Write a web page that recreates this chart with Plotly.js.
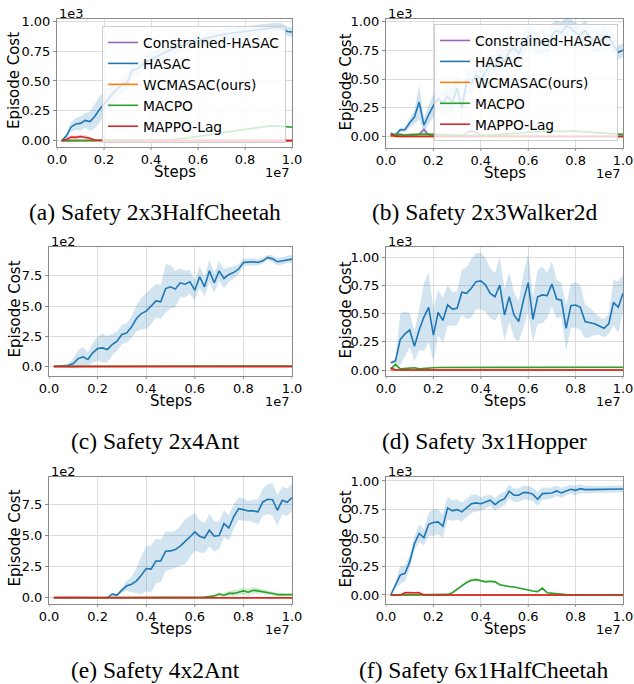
<!DOCTYPE html>
<html><head><meta charset="utf-8">
<script src="https://cdn.plot.ly/plotly-3.0.1.min.js"></script>
<style>html,body{margin:0;padding:0;background:#fff;}#chart{width:634px;height:684px;}</style>
</head><body><div id="chart"></div>
<script>
// Steps in millions (axis shows 1e7 offset)
const STEPS = [0.2,0.4,0.6,0.8,1.0,1.2,1.4,1.6,1.8,2.0,2.2,2.4,2.6,2.8,3.0,3.2,3.4,3.6,3.8,4.0,4.2,4.4,4.6,4.8,5.0,5.2,5.4,5.6,5.8,6.0,6.2,6.4,6.6,6.8,7.0,7.2,7.4,7.6,7.8,8.0,8.2,8.4,8.6,8.8,9.0,9.2,9.4,9.6,9.8,10.0];
const SERIES_NAMES = ["Constrained-HASAC","HASAC","WCMASAC(ours)","MACPO","MAPPO-Lag"];
const CAPTIONS = ["(a) Safety 2x3HalfCheetah","(b) Safety 2x3Walker2d","(c) Safety 2x4Ant","(d) Safety 3x1Hopper","(e) Safety 4x2Ant","(f) Safety 6x1HalfCheetah"];
const X_TICKVALS = [0,2,4,6,8,10];
const X_TICKTEXT = ["0.0","0.2","0.4","0.6","0.8","1.0"];
const Y_TICKVALS_1E3 = [0,250,500,750,1000];
const Y_TICKTEXT_1E3 = ["0.00","0.25","0.50","0.75","1.00"];
const Y_TICKVALS_1E2 = [0,250,500,750];
const Y_TICKTEXT_1E2 = ["0.0","2.5","5.0","7.5"];

// ---- (a) 2x3HalfCheetah ----
const A_CHASAC = [0,2,3,2,2,1,1,1,1,1, 1,1,1,0,0,0,0,0,0,0, 0,0,0,0,0,0,0,0,0,0, 0,0,0,0,0,0,0,0,0,0, 0,0,0,0,0,0,0,0,0,0];
const A_HASAC = [0,40,115,140,145,170,160,200,260,310, 350,400,440,470,490,590,600,630,660,680, 700,725,740,760,775,790,800,815,830,840, 850,860,870,880,885,895,900,905,910,915, 920,925,930,935,940,945,950,940,915,910];
const A_HASAC_STD = [0,20,40,50,60,60,80,100,110,100, 90,80,70,70,60,60,60,60,60,60, 60,60,55,55,55,50,50,50,50,50, 50,50,50,50,50,45,45,45,45,45, 45,45,40,40,40,40,40,40,40,40];
const A_WCMASAC = [0,1,1,1,1,1,1,1,0,0, 0,0,0,0,0,0,0,0,0,0, 0,0,0,0,0,0,0,0,0,0, 0,0,0,0,0,0,0,0,0,0, 0,0,0,0,0,0,0,0,0,0];
const A_MACPO = [0,1,1,1,1,1,1,1,1,0, 0,0,0,0,0,0,0,0,0,0, 1,3,5,8,11,15,20,25,30,35, 40,46,52,60,67,73,78,85,90,95, 102,108,114,118,122,124,123,120,116,112];
const A_MACPO_STD = [0,0,0,0,0,0,0,0,0,0, 0,0,0,0,0,0,0,0,0,0, 1,2,3,3,4,4,5,5,6,6, 6,7,7,8,8,8,9,9,10,10, 10,10,10,10,10,10,10,10,10,10];
const A_LAG = [0,10,30,28,35,30,20,5,3,2, 5,2,1,1,0,0,0,0,0,0, 0,0,0,0,0,0,0,0,0,0, 0,0,0,0,0,0,0,0,0,0, 0,0,0,0,0,0,0,0,0,0];
const A_LAG_STD = [0,8,15,15,15,15,12,5,3,3, 4,2,1,0,0,0,0,0,0,0, 0,0,0,0,0,0,0,0,0,0, 0,0,0,0,0,0,0,0,0,0, 0,0,0,0,0,0,0,0,0,0];

// ---- (b) 2x3Walker2d ----
const B_CHASAC = [5,5,10,10,10,10,20,60,15,5, 15,5,8,10,5,10,35,50,40,15, 5,5,3,3,3,3,3,3,3,3, 3,3,3,3,3,3,3,3,3,3, 3,3,3,3,3,3,3,3,3,3];
const B_CHASAC_STD = [3,3,5,5,5,5,15,30,10,5, 10,5,5,5,5,10,20,25,20,10, 3,3,2,2,2,2,2,2,2,2, 2,2,2,2,2,2,2,2,2,2, 2,2,2,2,2,2,2,2,2,2];
const B_HASAC = [30,15,60,60,120,170,300,100,190,270, 330,290,350,300,420,250,480,460,530,500, 560,620,600,700,650,740,770,720,800,870, 850,800,830,790,880,920,900,960,940,900, 880,920,860,830,820,880,860,800,730,750];
const B_HASAC_STD = [10,10,20,20,40,60,150,60,80,100, 110,100,110,100,120,100,110,100,110,100, 100,110,100,110,100,100,110,100,100,110, 100,100,110,100,100,90,90,80,80,90, 90,90,100,100,100,90,90,90,60,60];
const B_WCMASAC = [3,3,3,2,2,2,2,2,2,2, 2,2,2,2,2,2,2,2,2,2, 2,2,2,2,2,2,2,2,2,2, 2,2,2,2,2,2,2,2,2,2, 2,2,2,2,2,2,2,2,2,2];
const B_MACPO = [10,20,20,15,18,20,20,22,22,20, 18,15,12,10,10,10,10,10,10,10, 12,14,16,18,20,22,25,28,32,38, 42,45,47,50,48,45,47,45,50,48, 45,42,40,38,35,30,28,25,22,20];
const B_MACPO_STD = [5,8,8,8,8,8,8,8,8,8, 8,8,8,8,8,8,8,8,8,8, 8,8,10,10,10,10,12,12,12,12, 12,12,12,12,12,12,12,12,12,12, 12,12,12,12,12,12,12,10,10,10];
const B_LAG = [20,5,3,2,2,2,2,2,2,2, 2,2,2,2,2,2,2,2,2,2, 2,2,2,2,2,2,2,2,2,2, 2,2,2,2,2,2,2,2,2,2, 2,2,2,2,2,2,2,2,2,2];
const B_LAG_STD = [8,4,2,2,2,2,2,2,2,2, 2,2,2,2,2,2,2,2,2,2, 2,2,2,2,2,2,2,2,2,2, 2,2,2,2,2,2,2,2,2,2, 2,2,2,2,2,2,2,2,2,2];

// ---- (c) 2x4Ant (1e2) ----
const C_CHASAC = [0,0,0,0,0,0,0,0,0,0, 0,0,0,0,0,0,0,0,0,0, 0,0,0,0,0,0,0,0,0,0, 0,0,0,0,0,0,0,0,0,0, 0,0,0,0,0,0,0,0,0,0];
const C_HASAC = [0,2,5,10,25,66,80,58,113,149, 154,141,182,210,265,278,328,397,438,458, 499,543,535,645,659,640,692,681,700,631, 742,659,791,692,791,728,761,778,805,860, 863,866,860,874,902,890,866,874,885,888];
const C_HASAC_STD = [0,2,5,15,40,70,80,60,80,100, 120,110,90,80,80,80,90,110,130,150, 150,140,140,200,180,150,120,110,100,80, 90,80,90,80,80,80,60,50,40,30, 30,30,25,25,20,30,30,30,30,35];
const C_WCMASAC = [0,0,0,0,0,0,0,0,0,0, 0,0,0,0,0,0,0,0,0,0, 0,0,0,0,0,0,0,0,0,0, 0,0,0,0,0,0,0,0,0,0, 0,0,0,0,0,0,0,0,0,0];
const C_MACPO = [0,0,0,0,0,0,0,0,0,0, 0,0,0,0,0,0,0,0,0,0, 0,0,0,0,0,0,0,0,0,0, 0,0,0,0,0,0,0,0,0,0, 0,0,0,1,2,2,3,3,4,5];
const C_MACPO_STD = [0,0,0,0,0,0,0,0,0,0, 0,0,0,0,0,0,0,0,0,0, 0,0,0,0,0,0,0,0,0,0, 0,0,0,0,0,0,0,0,0,0, 0,0,0,1,1,2,2,2,3,3];
const C_LAG = [0,0,0,0,0,0,0,0,0,0, 0,0,0,0,0,0,0,0,0,0, 0,0,0,0,0,0,0,0,0,0, 0,0,0,0,0,0,0,0,0,0, 0,0,0,0,0,0,0,0,0,0];

// ---- (d) 3x1Hopper ----
const D_CHASAC = [0,0,0,0,0,0,0,0,0,0, 0,0,0,0,0,0,0,0,0,0, 0,0,0,0,0,0,0,0,0,0, 0,0,0,0,0,0,0,0,0,0, 0,0,0,0,5,5,0,0,0,0];
const D_HASAC = [65,80,270,320,355,210,355,470,556,310, 510,440,577,540,547,690,680,725,784,790, 754,680,650,754,488,650,488,430,620,775, 450,650,666,660,763,630,620,370,570,577, 556,430,420,410,390,370,410,600,556,680];
const D_HASAC_STD = [10,20,230,200,150,130,180,300,310,230, 200,200,180,150,150,200,230,260,250,250, 240,220,210,250,230,220,200,180,240,260, 200,240,250,200,200,170,150,200,200,200, 200,150,130,100,80,80,90,200,230,160];
const D_WCMASAC = [0,0,0,0,0,0,0,0,0,0, 0,0,0,0,0,0,0,0,0,0, 0,0,0,0,0,0,0,0,0,0, 0,0,0,0,0,0,0,0,0,0, 0,0,0,0,0,0,0,0,0,0];
const D_MACPO = [10,50,10,15,20,20,10,15,20,20, 22,22,22,23,23,24,24,24,25,25, 25,25,25,25,25,25,25,25,25,25, 25,25,25,25,25,25,25,25,25,25, 25,25,25,25,25,25,25,25,25,25];
const D_MACPO_STD = [5,15,5,5,6,6,5,5,5,5, 4,4,4,4,4,4,4,4,4,4, 4,4,4,4,4,4,4,4,4,4, 4,4,4,4,4,4,4,4,4,4, 4,4,4,4,4,4,4,4,4,4];
const D_LAG = [20,0,0,0,0,0,0,0,0,0, 0,0,0,0,0,0,0,0,0,0, 0,0,0,0,0,0,0,0,0,0, 0,0,0,0,0,0,0,0,0,0, 0,0,0,0,0,0,0,0,0,0];

// ---- (e) 4x2Ant (1e2) ----
const E_CHASAC = [3,5,5,4,4,3,3,3,3,3, 2,2,1,1,0,0,0,0,0,0, 0,0,0,0,0,0,0,0,0,0, 0,0,0,0,0,0,0,0,0,0, 0,0,0,0,0,0,0,0,0,0];
const E_HASAC = [0,0,0,0,0,0,0,0,0,0, 0,0,29,21,61,96,109,136,181,235, 230,294,296,374,376,387,414,448,488,528, 494,480,542,494,499,595,560,649,715,707, 697,697,689,769,790,787,702,782,766,803];
const E_HASAC_STD = [0,0,0,0,0,0,0,0,0,0, 0,0,10,10,20,40,60,100,150,180, 190,180,170,160,150,150,160,180,170,150, 130,120,130,120,110,110,100,100,90,90, 80,90,100,110,120,130,120,110,110,110];
const E_WCMASAC = [2,2,3,3,3,3,3,3,4,4, 4,5,5,5,5,4,4,3,3,2, 1,1,0,0,0,0,0,0,0,0, 0,0,0,0,0,0,0,0,0,0, 0,0,0,0,0,0,0,0,0,0];
const E_MACPO = [0,0,0,0,0,0,0,0,0,0, 0,0,0,0,0,0,0,0,0,0, 0,0,0,0,0,0,0,0,0,0, 2,5,10,15,30,20,35,35,45,55, 45,60,55,50,40,35,25,25,20,25];
const E_MACPO_STD = [0,0,0,0,0,0,0,0,0,0, 0,0,0,0,0,0,0,0,0,0, 0,0,0,0,0,0,0,0,0,0, 2,4,8,10,15,15,20,25,25,30, 30,25,25,20,20,15,15,12,10,10];
const E_LAG = [0,0,0,0,0,0,0,0,0,0, 0,0,0,0,0,0,0,0,0,0, 0,0,0,0,0,0,0,0,0,0, 0,0,0,0,0,0,0,0,0,0, 0,0,0,0,0,0,0,0,0,0];

// ---- (f) 6x1HalfCheetah ----
const F_CHASAC = [0,0,0,0,0,0,0,0,0,0, 0,0,0,0,0,0,0,0,0,0, 0,0,0,0,0,0,0,0,0,0, 0,0,0,0,0,0,0,0,0,0, 0,0,0,0,0,0,0,0,0,0];
const F_HASAC = [0,87,175,190,290,450,540,504,620,636, 641,603,764,738,749,729,764,800,808,800, 816,831,793,825,845,910,875,875,898,898, 883,840,889,889,895,913,895,913,927,918, 933,924,925,925,927,927,928,928,930,930];
const F_HASAC_STD = [0,30,80,70,60,60,80,70,100,120, 110,100,100,90,90,85,80,80,75,60, 55,50,55,60,60,60,60,60,60,60, 60,60,55,50,50,45,45,40,40,40, 40,35,35,30,30,30,30,30,30,30];
const F_WCMASAC = [0,0,0,0,0,0,0,0,0,0, 0,0,0,0,0,0,0,0,0,0, 0,0,0,0,0,0,0,0,0,0, 0,0,0,0,0,0,0,3,0,0, 0,0,0,0,0,0,0,0,0,0];
const F_MACPO = [0,0,0,0,0,0,0,0,0,0, 0,0,5,20,50,80,110,130,135,125, 115,120,115,90,80,75,70,60,50,40, 35,30,60,20,15,10,5,3,2,1, 1,1,1,0,0,0,0,0,0,0];
const F_MACPO_STD = [0,0,0,0,0,0,0,0,0,0, 0,0,3,5,8,10,12,15,15,12, 10,12,10,10,8,8,8,6,6,5, 5,5,10,4,3,3,2,2,2,1, 1,1,1,1,0,0,0,0,0,0];
const F_LAG = [0,0,0,20,20,15,20,0,0,0, 0,0,0,0,0,0,0,0,0,0, 0,0,0,0,0,0,0,0,0,0, 0,0,0,0,0,0,0,0,0,0, 0,0,0,0,0,0,0,0,0,0];
const F_LAG_STD = [0,0,0,15,15,10,20,0,0,0, 0,0,0,0,0,0,0,0,0,0, 0,0,0,0,0,0,0,0,0,0, 0,0,0,0,0,0,0,0,0,0, 0,0,0,0,0,0,0,0,0,0];

const COLORS = ["#9467bd","#1f77b4","#ff7f0e","#2ca02c","#d62728"];
const BANDS = ["rgba(148,103,189,0.2)","rgba(31,119,180,0.2)","rgba(255,127,14,0.2)","rgba(44,160,44,0.2)","rgba(214,39,40,0.2)"];

const PANELS = [
  {series:[[A_CHASAC,null],[A_HASAC,A_HASAC_STD],[A_WCMASAC,null],[A_MACPO,A_MACPO_STD],[A_LAG,A_LAG_STD]], box:[57,292,19,147], yr:[-53,1019], sc:"1e3", legend:"legend"},
  {series:[[B_CHASAC,B_CHASAC_STD],[B_HASAC,B_HASAC_STD],[B_WCMASAC,null],[B_MACPO,B_MACPO_STD],[B_LAG,B_LAG_STD]], box:[386,623,19,148], yr:[-98,1020], sc:"1e3", legend:"legend2"},
  {series:[[C_CHASAC,null],[C_HASAC,C_HASAC_STD],[C_WCMASAC,null],[C_MACPO,C_MACPO_STD],[C_LAG,null]], box:[49,292,247,376], yr:[-78,988], sc:"1e2"},
  {series:[[D_CHASAC,null],[D_HASAC,D_HASAC_STD],[D_WCMASAC,null],[D_MACPO,D_MACPO_STD],[D_LAG,null]], box:[386,623,247,376], yr:[-53,1091], sc:"1e3"},
  {series:[[E_CHASAC,null],[E_HASAC,E_HASAC_STD],[E_WCMASAC,null],[E_MACPO,E_MACPO_STD],[E_LAG,null]], box:[49,292,477,604], yr:[-50,969], sc:"1e2"},
  {series:[[F_CHASAC,null],[F_HASAC,F_HASAC_STD],[F_WCMASAC,null],[F_MACPO,F_MACPO_STD],[F_LAG,F_LAG_STD]], box:[386,623,477,604], yr:[-79,1035], sc:"1e3"}
];
const CAP_POS = [[155,212],[484,212],[155,441],[484,441],[155,670],[484,670]];

const W = 634, H = 684;
const px = v => v / W, py = v => 1 - v / H;
const FONT = "DejaVu Sans";
const traces = [];
const layout = {
  width: W, height: H, margin: {l:0,r:0,t:0,b:0},
  paper_bgcolor: "#fff", plot_bgcolor: "#fff",
  showlegend: true, annotations: [], shapes: [],
  font: {family: FONT, color: "#000", size: 13}
};

PANELS.forEach((p, i) => {
  const n = i === 0 ? "" : String(i + 1);
  const xa = "x" + n, ya = "y" + n;
  const [x0, x1, y0, y1] = p.box;
  p.series.forEach(([mean, std], k) => {
    if (std) {
      const up = mean.map((m, j) => m + std[j]);
      const lo = mean.map((m, j) => m - std[j]);
      traces.push({
        x: STEPS.concat(STEPS.slice().reverse()),
        y: up.concat(lo.slice().reverse()),
        xaxis: xa, yaxis: ya, type: "scatter", mode: "lines",
        fill: "toself", fillcolor: BANDS[k], line: {width: 0},
        hoverinfo: "skip", showlegend: false
      });
    }
    const t = {
      x: STEPS, y: mean, xaxis: xa, yaxis: ya, type: "scatter", mode: "lines",
      name: SERIES_NAMES[k], line: {color: COLORS[k], width: 1.6},
      showlegend: !!p.legend
    };
    if (p.legend) t.legend = p.legend;
    traces.push(t);
  });
  const axCommon = {
    showgrid: true, gridcolor: "#dddddd", gridwidth: 1,
    showline: true, linecolor: "#8a8a8a", linewidth: 1, mirror: true,
    zeroline: false, tickfont: {family: FONT, size: 13, color: "#000"},
    fixedrange: true
  };
  layout["xaxis" + n] = Object.assign({}, axCommon, {
    domain: [px(x0), px(x1)], anchor: ya, range: [0, 10],
    tickmode: "array", tickvals: X_TICKVALS, ticktext: X_TICKTEXT,
    ticks: ""
  });
  layout["yaxis" + n] = Object.assign({}, axCommon, {
    domain: [py(y1), py(y0)], anchor: xa, range: p.yr, tickmode: "array",
    ticks: "outside", ticklen: 3, tickcolor: "#8a8a8a",
    tickvals: p.sc === "1e3" ? Y_TICKVALS_1E3 : Y_TICKVALS_1E2,
    ticktext: p.sc === "1e3" ? Y_TICKTEXT_1E3 : Y_TICKTEXT_1E2
  });
  // small outward tick marks under the x axis
  X_TICKVALS.forEach(v => {
    layout.shapes.push({type:"line", xref:xa, yref:"paper", x0:v, x1:v, y0:py(y1), y1:py(y1+3), line:{color:"#8a8a8a", width:1}});
  });
  const ann = layout.annotations;
  ann.push({xref:"paper", yref:"paper", x:px(x0), y:py(y0-5.5), xanchor:"left", yanchor:"middle", text:p.sc, showarrow:false, font:{family:FONT,size:13,color:"#000"}});
  ann.push({xref:"paper", yref:"paper", x:px(x1), y:py(y1+25), xanchor:"right", yanchor:"middle", text:"1e7", showarrow:false, font:{family:FONT,size:13,color:"#000"}});
  ann.push({xref:"paper", yref:"paper", x:px((x0+x1)/2), y:py(y1+25), xanchor:"center", yanchor:"middle", text:"Steps", showarrow:false, font:{family:FONT,size:15,color:"#000"}});
  ann.push({xref:"paper", yref:"paper", x:px(i % 2 === 0 ? 14 : 345), y:py((y0+y1)/2 - 2), xanchor:"center", yanchor:"middle", text:"Episode Cost", textangle:-90, showarrow:false, font:{family:FONT,size:15,color:"#000"}});
  ann.push({xref:"paper", yref:"paper", x:px(CAP_POS[i][0]), y:py(CAP_POS[i][1]), xanchor:"center", yanchor:"middle", text:CAPTIONS[i], showarrow:false, font:{family:"Liberation Serif",size:23.5,color:"#000"}});
});

const legCommon = {
  bgcolor: "rgba(255,255,255,0.8)", bordercolor: "#cccccc", borderwidth: 1,
  font: {family: FONT, size: 13.8, color: "#000"}, xanchor: "left", yanchor: "top",
  tracegroupgap: 0, itemwidth: 30
};
layout.legend = Object.assign({}, legCommon, {x: px(102), y: py(26)});
layout.legend2 = Object.assign({}, legCommon, {x: px(434), y: py(24)});

Plotly.newPlot("chart", traces, layout, {staticPlot: true, displayModeBar: false});
</script>
</body></html>
